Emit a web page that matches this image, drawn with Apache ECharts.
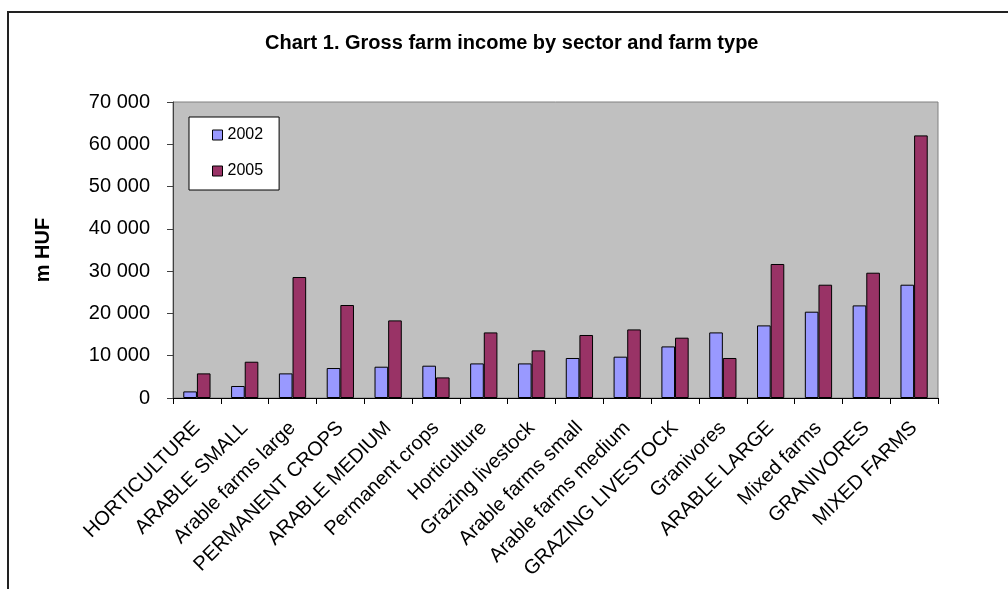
<!DOCTYPE html>
<html>
<head>
<meta charset="utf-8">
<script src="https://cdn.jsdelivr.net/npm/echarts@6/dist/echarts.min.js"></script>
<style>
html, body { margin: 0; padding: 0; background: #fff; }
#chart { width: 1008px; height: 589px; }
</style>
</head>
<body>
<div id="chart"></div>
<script>
var categories = [
  "HORTICULTURE", "ARABLE SMALL", "Arable farms large", "PERMANENT CROPS",
  "ARABLE MEDIUM", "Permanent crops", "Horticulture", "Grazing livestock",
  "Arable farms small", "Arable farms medium", "GRAZING LIVESTOCK", "Granivores",
  "ARABLE LARGE", "Mixed farms", "GRANIVORES", "MIXED FARMS"
];
var values2002 = [1560, 2840, 5820, 7090, 7400, 7640, 8180, 8180, 9460, 9770, 12200, 15510, 17170, 20410, 21900, 26790];
var values2005 = [5820, 8580, 28610, 21990, 18350, 4870, 15510, 11260, 14900, 16220, 14260, 9460, 31690, 26790, 29630, 62100];
var seriesNames = ["2002", "2005"];

var chart = echarts.init(document.getElementById('chart'), null, {renderer: 'canvas'});
var font = 'Liberation Sans, Arial, sans-serif';

var option = {
  animation: false,
  textStyle: {fontFamily: font},
  color: ["#9999FF", "#993366"],
  title: {
    text: "Chart 1. Gross farm income by sector and farm type",
    left: 265,
    top: 33,
    padding: 0,
    textStyle: {fontSize: 20, fontWeight: 'bold', color: '#000', fontFamily: font}
  },
  graphic: [{
    type: 'rect',
    shape: {x: 8, y: 12, width: 1200, height: 800},
    style: {fill: 'none', stroke: '#222', lineWidth: 2},
    silent: true
  }],
  legend: {
    orient: 'vertical',
    left: 189,
    top: 117,
    data: seriesNames,
    backgroundColor: '#fff',
    borderColor: '#000',
    borderWidth: 1,
    padding: [10, 16, 11, 23],
    itemGap: 20,
    itemWidth: 10,
    itemHeight: 10,
    icon: 'rect',
    itemStyle: {borderColor: '#000', borderWidth: 1},
    textStyle: {fontSize: 16, color: '#000', fontFamily: font}
  },
  grid: {
    left: 173, right: 70, top: 102, bottom: 191,
    show: true,
    backgroundColor: '#C0C0C0',
    borderColor: '#808080',
    borderWidth: 1
  },
  xAxis: {
    type: 'category',
    data: categories,
    axisLine: {lineStyle: {color: '#000', width: 1}},
    axisTick: {show: true, length: 6, lineStyle: {color: '#000'}},
    axisLabel: {
      interval: 0,
      rotate: 45,
      margin: 27,
      fontSize: 20,
      color: '#000',
      fontFamily: font
    }
  },
  yAxis: {
    type: 'value',
    min: 0,
    max: 70000,
    interval: 10000,
    name: 'm HUF',
    nameLocation: 'middle',
    nameGap: 120,
    nameRotate: 90,
    nameTextStyle: {fontSize: 20, fontWeight: 'bold', color: '#000', fontFamily: font},
    splitLine: {show: false},
    axisLine: {show: true, lineStyle: {color: '#404040', width: 1}},
    axisTick: {show: true, length: 6, lineStyle: {color: '#404040'}},
    axisLabel: {
      margin: 23,
      fontSize: 20,
      color: '#000',
      fontFamily: font,
      formatter: function (v) {
        return String(v).replace(/\B(?=(\d{3})+(?!\d))/g, ' ');
      }
    }
  },
  series: [
    {
      name: seriesNames[0],
      type: 'bar',
      data: values2002,
      barGap: '0%',
      barCategoryGap: '43%',
      itemStyle: {borderColor: '#000', borderWidth: 1}
    },
    {
      name: seriesNames[1],
      type: 'bar',
      data: values2005,
      barGap: '0%',
      barCategoryGap: '43%',
      itemStyle: {borderColor: '#000', borderWidth: 1}
    }
  ]
};
chart.setOption(option);
</script>
</body>
</html>
